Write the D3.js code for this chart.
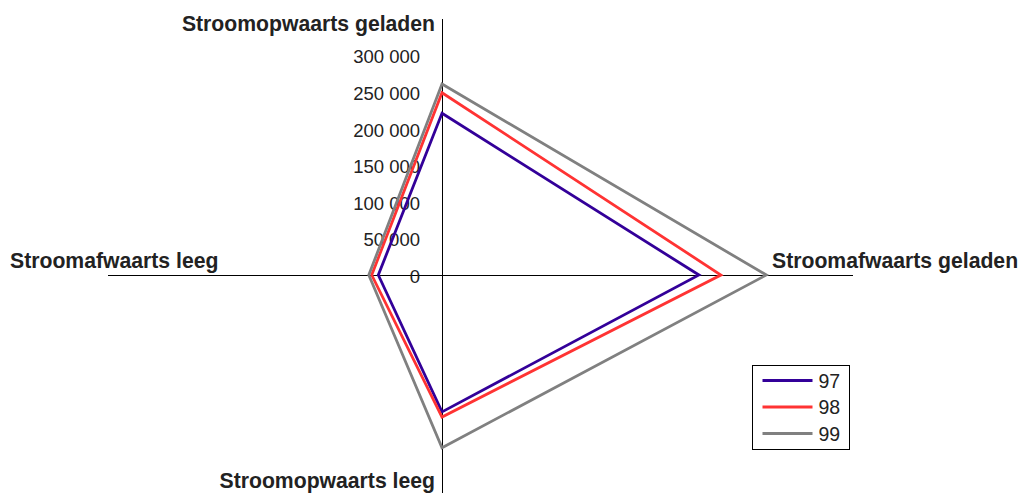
<!DOCTYPE html>
<html>
<head>
<meta charset="utf-8">
<script src="https://cdn.jsdelivr.net/npm/d3@7"></script>
<style>
  body { margin: 0; background: #fff; }
  svg { display: block; font-family: "Liberation Sans", Arial, sans-serif; }
</style>
</head>
<body>
<div id="chart"></div>
<script>
// axes, clockwise from the top
const axes = ["Stroomopwaarts geladen", "Stroomafwaarts geladen", "Stroomopwaarts leeg", "Stroomafwaarts leeg"];
const seriesNames = ["97", "98", "99"];
const values97 = [221000, 351000, 187000, 87000];
const values98 = [249000, 381000, 194000, 96000];
const values99 = [261000, 443000, 236000, 100000];
const tickValues = [0, 50000, 100000, 150000, 200000, 250000, 300000];
const colors = ["#330099", "#ff3333", "#808080"];

const width = 1023, height = 493;
const cx = 442, cy = 275;

const svg = d3.select("#chart").append("svg")
  .attr("width", width).attr("height", height);

// radius scale (value -> pixels from centre)
const r = d3.scaleLinear().domain([0, 300000]).range([0, 219.6]);

const angle = i => i * Math.PI / 2; // 0 = up, clockwise
const pt = (v, i) => [cx + r(v) * Math.sin(angle(i)), cy - r(v) * Math.cos(angle(i))];

// axis lines (lengths as in the original)
const axisLen = [257, 410, 230, 335];
svg.append("g").selectAll("line").data(axisLen).join("line")
  .attr("x1", cx + 0.5).attr("y1", cy + 0.5)
  .attr("x2", (d, i) => cx + 0.5 + d * Math.sin(angle(i)))
  .attr("y2", (d, i) => cy + 0.5 - d * Math.cos(angle(i)))
  .attr("stroke", "#000").attr("stroke-width", 1)
  .attr("shape-rendering", "crispEdges");

// tick labels on the top axis
svg.append("g").selectAll("text").data(tickValues).join("text")
  .attr("x", 420)
  .attr("y", d => cy - r(d) + 8)
  .attr("text-anchor", "end")
  .attr("font-size", 18.5)
  .attr("fill", "#222")
  .text(d => d === 0 ? "0" : d3.format(",")(d).replace(/,/g, " "));

// series polygons
const data = [values97, values98, values99];
const line = d3.line().curve(d3.curveLinearClosed);
svg.append("g").selectAll("path").data(data).join("path")
  .attr("d", vals => line(vals.map((v, i) => pt(v, i))))
  .attr("fill", "none")
  .attr("stroke", (d, i) => colors[i])
  .attr("stroke-width", 2.8)
  .attr("stroke-linejoin", "miter");

// axis names
const labelPos = [
  { x: 435, y: 31, anchor: "end" },
  { x: 772, y: 268, anchor: "start" },
  { x: 435, y: 488, anchor: "end" },
  { x: 10, y: 268, anchor: "start" }
];
svg.append("g").selectAll("text").data(axes).join("text")
  .attr("x", (d, i) => labelPos[i].x)
  .attr("y", (d, i) => labelPos[i].y)
  .attr("text-anchor", (d, i) => labelPos[i].anchor)
  .attr("font-size", 21.2)
  .attr("font-weight", "bold")
  .attr("fill", "#222")
  .text(d => d);

// legend
const legend = svg.append("g").attr("transform", "translate(752.5,365.5)");
legend.append("rect")
  .attr("width", 97).attr("height", 84)
  .attr("fill", "#fff").attr("stroke", "#000").attr("stroke-width", 1)
  .attr("shape-rendering", "crispEdges");
const item = legend.selectAll("g").data(seriesNames).join("g")
  .attr("transform", (d, i) => `translate(0,${15 + i * 26.5})`);
item.append("line")
  .attr("x1", 10).attr("x2", 60)
  .attr("stroke", (d, i) => colors[i]).attr("stroke-width", 2.8);
item.append("text")
  .attr("x", 66).attr("y", 7)
  .attr("font-size", 19.5).attr("fill", "#222")
  .text(d => d);
</script>
</body>
</html>
